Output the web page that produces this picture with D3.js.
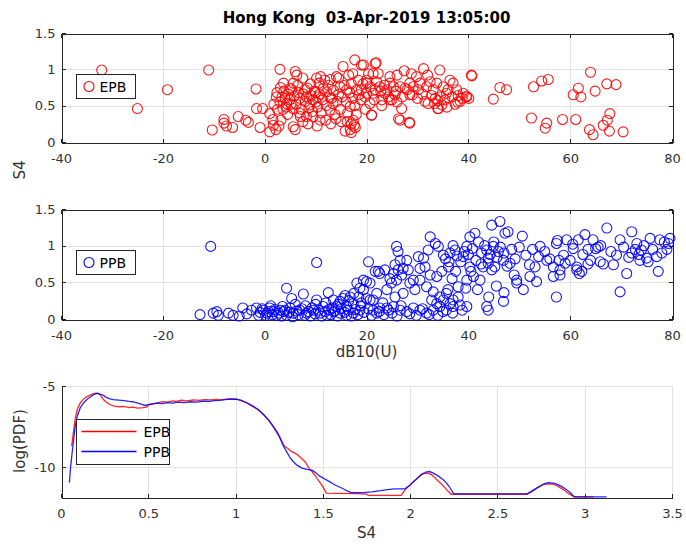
<!DOCTYPE html>
<html>
<head>
<meta charset="utf-8">
<script src="https://cdn.jsdelivr.net/npm/d3@7"></script>
<style>
  html, body { margin: 0; padding: 0; background: #fff; }
  svg { display: block; }
  text { font-family: "DejaVu Sans", "Liberation Sans", Arial, sans-serif; }
</style>
</head>
<body>
<svg id="chart" width="686" height="544"></svg>
<script>
// ---- data ----------------------------------------------------------------
const titleText = "Hong Kong  03-Apr-2019 13:05:00";
const seriesNames = ["EPB", "PPB"];
const dbTicks = [-40, -20, 0, 20, 40, 60, 80];
const s4Ticks = [0, 0.5, 1, 1.5];
const pdfXTicks = [0, 0.5, 1, 1.5, 2, 2.5, 3, 3.5];
const pdfYTicks = [-10, -5];

// EPB: [dB10(U), S4]
const epbPoints = [
  [-32.0,0.99],[-25.0,0.46],[-19.1,0.72],[-11.0,0.99],[-10.3,0.165],
  [-8.0,0.31],[-8.0,0.26],[-7.5,0.22],[-6.3,0.20],[-5.2,0.35],[-3.7,0.30],[-3.2,0.27],
  [-0.9,0.20],[-1.6,0.46],[-1.7,0.73],[-0.4,0.46],[1.0,0.14],[1.7,0.23],[1.6,0.31],
  [2.2,0.17],[1.0,0.39],[2.4,0.68],[3.0,1.00],[3.1,0.75],[3.7,0.81],[4.0,0.60],[4.3,0.53],
  [5.0,0.74],[5.6,0.81],[6.0,0.97],[6.3,0.92],[6.6,0.68],[5.6,0.46],[7.0,0.35],[5.6,0.21],
  [6.0,0.17],[7.5,0.88],[7.9,0.72],[8.2,0.35],[8.9,0.51],[9.5,0.58],[10.2,0.88],[10.5,0.62],
  [10.7,0.81],[10.9,0.30],[10.3,0.22],[11.5,0.74],[12.2,0.69],[12.8,0.62],[13.4,0.53],
  [14.1,0.90],[14.8,0.76],[15.4,1.04],[16.1,0.72],[16.8,0.49],[17.4,0.30],[16.8,0.17],
  [17.7,1.13],[17.3,0.94],[18.4,0.85],[19.0,1.06],[19.7,0.62],[20.4,0.94],[21.3,0.67],
  [21.7,1.08],[22.0,0.83],[19.4,1.06],[21.9,1.09],[21.3,0.94],[22.3,0.94],
  [20.0,0.81],[20.7,0.76],[21.7,0.72],[22.6,0.76],[23.6,0.67],[24.6,0.81],[25.3,0.76],
  [24.3,0.62],[25.6,0.65],[26.6,0.76],[27.6,0.74],[28.5,0.81],[29.2,0.76],[29.8,0.90],
  [30.5,0.81],[31.2,1.01],[31.8,0.76],[32.5,0.83],[33.1,0.72],[33.8,0.81],[34.4,0.99],
  [35.1,0.76],[35.4,0.58],[35.7,0.67],[36.4,0.85],[37.0,0.81],[37.7,0.72],[38.4,0.56],
  [39.0,0.67],[39.7,0.62],[40.6,0.92],[34.8,0.51],[34.1,0.46],[33.4,0.53],[32.1,0.53],
  [28.5,0.65],[26.9,0.46],[26.6,0.30],[28.4,0.27],[21.0,0.37],[20.7,0.53],[20.0,0.67],
  [19.0,0.72],[24.6,0.58],[23.0,0.58],
  [44.9,0.59],[46.2,0.75],[47.5,0.72],[52.8,0.76],[54.4,0.84],[55.7,0.86],[52.4,0.33],
  [55.4,0.26],[55.1,0.19],[58.5,0.31],[61.1,0.31],[60.6,0.65],[61.6,0.74],[62.1,0.62],
  [64.0,0.96],[64.9,0.70],[67.2,0.80],[69.0,0.79],[63.8,0.17],[64.5,0.10],[67.8,0.39],
  [67.3,0.30],[66.5,0.23],[67.7,0.15],[70.4,0.14],
  [2.5,0.45],[3.0,0.55],[3.4,0.62],[3.8,0.70],[4.2,0.48],[4.6,0.66],[4.9,0.58],[5.3,0.72],
  [5.8,0.63],[6.2,0.52],[6.5,0.78],[6.9,0.60],[7.2,0.45],[7.6,0.66],[8.0,0.56],[8.4,0.74],
  [8.7,0.47],[9.1,0.64],[9.4,0.42],[9.8,0.70],[10.1,0.55],[10.4,0.48],[10.8,0.66],[11.1,0.40],
  [11.4,0.58],[11.8,0.85],[12.1,0.50],[12.5,0.78],[12.8,0.44],[13.1,0.60],[13.5,0.71],
  [13.8,0.38],[14.2,0.56],[14.5,0.66],[14.9,0.45],[15.2,0.62],[15.6,0.78],[16.0,0.55],
  [16.3,0.40],[16.7,0.68],[17.0,0.80],[17.3,0.60],[17.7,0.50],[18.1,0.72],[18.5,0.65],
  [18.9,0.58],[19.3,0.80],[9.0,0.80],[11.0,0.90],[12.0,0.30],[13.0,0.25],[14.0,0.32],
  [15.0,0.28],[8.5,0.25],[7.5,0.28],[9.5,0.35],[6.8,0.40],[4.5,0.38],[3.2,0.30],[2.8,0.22],
  [1.8,0.52],[2.3,0.62],[16.5,0.92],[14.5,0.88],[12.9,0.86],[10.0,0.68],[8.2,0.62],[5.2,0.52],
  [3.6,0.45],[22.8,0.70],[23.5,0.78],[24.0,0.72],[25.8,0.70],[27.0,0.62],[28.0,0.72],
  [29.0,0.65],[30.2,0.72],[31.0,0.66],[32.8,0.64],[33.5,0.60],[36.0,0.72],[38.0,0.64],
  [25.0,0.58],[26.0,0.55],[23.0,0.50],[21.5,0.58],[19.8,0.45],[18.0,0.38],[17.0,0.25],
  [16.2,0.28],[15.8,0.15],[17.8,0.20],[20.0,0.85],[26.0,0.92],[28.8,0.94],[32.0,0.92],
  [34.5,0.62],[35.8,0.48],[37.4,0.52],[36.8,0.62],[38.8,0.60],[31.5,0.56],[30.0,0.60],
  [24.6,0.90],[27.4,0.98],[17.0,0.13],[17.6,0.23],[21.0,0.37],[26.3,0.32],[28.5,0.26],
  [34.0,0.57],[34.0,0.46],[40.1,0.60],[39.6,0.63],[37.9,0.55],[40.7,0.91]
];

// PPB: [dB10(U), S4]
const ppbPoints = [
  [-10.6,0.99],[-12.7,0.06],[-10.1,0.08],[-9.4,0.10],[-9.1,0.05],[-7.1,0.08],[-6.2,0.05],
  [-4.3,0.15],[-2.6,0.12],[-1.6,0.15],[-0.9,0.09],[-0.3,0.12],[0.4,0.08],[1.0,0.15],
  [1.7,0.10],[2.4,0.05],[3.0,0.12],[4.3,0.42],[5.3,0.28],[7.6,0.34],[10.2,0.77],[12.5,0.36],
  [10.2,0.26],[11.5,0.17],[9.6,0.12],[8.2,0.08],[6.9,0.12],[5.6,0.08],[5.0,0.15],[4.3,0.05],
  [3.7,0.10],[13.5,0.26],[14.1,0.17],[14.8,0.24],[15.4,0.28],[16.1,0.17],[16.8,0.30],
  [17.4,0.21],[18.1,0.49],[18.7,0.42],[19.4,0.53],[20.0,0.51],[20.4,0.78],[21.7,0.65],
  [20.7,0.26],[21.3,0.12],[22.0,0.08],[18.7,0.12],[17.4,0.08],[16.1,0.05],[14.8,0.08],
  [13.5,0.10],[12.2,0.05],[10.9,0.08],[13.2,0.15],
  [22.3,0.65],[20.7,0.49],[19.4,0.40],[20.0,0.28],[21.3,0.26],
  [22.6,0.15],[24.3,0.12],[25.3,0.17],[26.6,0.12],[27.9,0.10],[29.2,0.15],[30.5,0.12],
  [31.8,0.08],[33.1,0.12],[34.4,0.17],[35.7,0.12],[37.0,0.17],[38.4,0.19],[39.7,0.17],
  [24.0,0.40],[24.9,0.49],[25.9,0.53],[25.6,0.30],[27.2,0.35],[28.5,0.49],[29.5,0.40],
  [30.5,0.53],[31.8,0.44],[33.1,0.37],[34.4,0.30],[35.7,0.35],[37.0,0.26],[38.0,0.44],
  [32.8,0.26],[33.8,0.21],[35.1,0.26],[36.4,0.21],
  [25.9,0.99],[26.2,0.92],[26.6,0.80],[25.6,0.74],[26.2,0.67],[25.3,0.62],[26.9,0.60],
  [24.6,0.55],[27.2,0.69],[28.2,0.67],[23.6,0.67],[22.6,0.62],[27.9,0.80],[30.2,0.85],
  [31.2,0.83],[32.1,0.94],[32.5,1.12],[33.5,1.03],[34.1,0.99],[35.1,0.87],[36.4,0.90],
  [37.4,0.94],[36.1,0.71],[34.8,0.65],[33.8,0.58],[32.5,0.60],[31.5,0.71],[29.2,0.53],
  [30.5,0.69],
  [39.0,0.85],[39.7,0.99],[40.3,1.12],[41.3,1.17],[40.3,0.71],[39.7,0.53],[41.0,0.58],
  [42.3,0.53],[42.9,0.71],[43.9,0.83],[44.6,1.28],[46.2,1.33],[47.2,1.17],[47.8,1.19],
  [44.9,0.99],[45.9,0.92],[43.6,0.94],[44.6,0.67],[45.2,0.71],[46.9,0.80],[48.2,0.76],
  [49.5,0.53],[50.8,0.40],[52.1,0.58],[53.1,0.71],[54.1,0.99],[55.4,0.80],[56.7,0.71],
  [58.0,0.67],[57.3,1.03],[58.7,0.87],[59.3,1.08],[60.6,0.96],[61.6,1.08],[62.3,0.65],
  [61.3,0.71],[62.9,1.15],[64.5,1.08],[65.9,0.78],[67.2,1.24],[69.1,0.87],[69.8,1.08],
  [71.1,0.62],[72.1,1.19],[73.1,1.03],[74.0,0.94],[75.0,0.83],[75.7,1.10],[77.3,0.65],
  [77.6,1.08],[78.0,0.90],[79.3,1.03],[79.6,1.10],[43.6,0.17],[43.9,0.12],[46.9,0.24],
  [49.5,0.49],[53.4,0.51],[56.7,0.58],[58.0,0.60],[57.3,0.30],[61.3,0.67],[69.8,0.37],
  [72.1,0.90],[73.7,0.80],[75.3,0.78],
  [0.2,0.05],[0.8,0.10],[1.5,0.06],[2.0,0.13],[2.8,0.08],[3.3,0.04],[4.0,0.12],[4.8,0.09],
  [5.5,0.03],[6.2,0.11],[6.6,0.06],[7.3,0.14],[7.9,0.05],[8.6,0.10],[9.0,0.04],[9.3,0.15],
  [9.9,0.07],[10.6,0.12],[11.2,0.04],[11.9,0.10],[12.6,0.13],[13.0,0.06],[13.8,0.11],
  [14.3,0.04],[15.0,0.14],[15.7,0.09],[16.4,0.12],[17.0,0.04],[17.8,0.13],[18.3,0.06],
  [18.9,0.18],[19.5,0.09],[20.3,0.14],[21.0,0.05],[22.5,0.10],[23.4,0.06],[24.0,0.15],
  [25.0,0.08],[26.0,0.04],[26.8,0.18],[28.5,0.07],[29.8,0.05],[31.0,0.14],[32.3,0.06],
  [34.0,0.05],[35.0,0.10],[36.9,0.08],[38.8,0.12],[-1.2,0.05],[-0.5,0.14],[-3.5,0.07],
  [-5.0,0.04],[1.2,0.18],[3.5,0.17],[6.0,0.20],[8.0,0.18],[10.0,0.20],[12.0,0.22],
  [14.5,0.20],[16.5,0.25],[18.5,0.30],[19.0,0.22],[17.5,0.35],[15.8,0.32],[22.0,0.35],
  [23.2,0.22],
  [35.5,0.82],[36.2,0.78],[37.0,1.00],[37.8,0.86],[38.5,0.78],[39.2,0.92],[40.0,0.88],
  [40.8,0.96],[41.5,0.80],[42.0,1.05],[42.6,0.90],[43.2,1.00],[43.9,0.76],[44.3,0.88],
  [45.0,1.05],[45.6,0.84],[46.3,0.98],[47.0,0.90],[47.6,0.72],[48.5,0.95],[49.2,0.82],
  [50.0,0.98],[50.6,1.13],[51.3,0.87],[52.0,0.74],[52.6,0.95],[53.8,0.85],[55.0,0.92],
  [56.0,0.82],[57.5,1.07],[57.8,0.80],[59.0,0.76],[60.0,0.80],[60.5,1.02],[62.5,0.88],
  [63.5,0.95],[64.0,0.80],[65.0,0.96],[66.0,1.00],[68.0,0.92],[68.5,0.74],[70.5,0.98],
  [71.5,0.84],[72.8,0.95],[73.5,0.88],[74.5,1.00],[76.2,0.95],[77.0,0.85],[78.5,1.05],
  [79.0,0.95],[38.0,0.30],[39.5,0.42],[41.8,0.40],[44.0,0.30],[36.0,0.40],[47.0,0.36],
  [45.5,0.45],[49.0,0.60],[40.5,0.65],[42.5,0.75],[37.5,0.65],[36.8,0.55],[61.8,0.62],
  [63.5,0.75],[66.5,0.75],[65.5,0.98]
];

// log(PDF) of S4: [S4, log(PDF)]
const pdfEpb = [
  [0.061,-8.7],[0.068,-8.1],[0.08,-7.1],[0.093,-6.45],[0.105,-6.15],[0.118,-5.93],
  [0.135,-5.75],[0.155,-5.62],[0.175,-5.52],[0.193,-5.45],[0.21,-5.44],[0.225,-5.55],
  [0.243,-5.83],[0.26,-6.0],[0.28,-6.14],[0.30,-6.22],[0.33,-6.28],[0.36,-6.25],
  [0.39,-6.33],[0.41,-6.3],[0.44,-6.36],[0.47,-6.33],[0.49,-6.3],[0.506,-6.14],
  [0.53,-6.1],[0.56,-6.02],[0.58,-5.97],[0.61,-5.99],[0.64,-5.92],[0.66,-5.95],
  [0.69,-5.88],[0.72,-5.92],[0.76,-5.85],[0.79,-5.88],[0.82,-5.84],[0.86,-5.86],
  [0.89,-5.82],[0.92,-5.85],[0.96,-5.79],[0.98,-5.82],[1.0,-5.8],[1.03,-5.9],
  [1.06,-6.03],[1.08,-6.15],[1.11,-6.34],[1.14,-6.55],[1.16,-6.76],[1.19,-7.1],
  [1.21,-7.38],[1.24,-7.85],[1.26,-8.3],[1.28,-8.72],[1.30,-8.85],[1.32,-9.03],
  [1.35,-9.2],[1.37,-9.38],[1.40,-9.7],[1.42,-10.06],[1.44,-10.3],[1.46,-10.58],
  [1.48,-10.9],[1.50,-11.2],[1.52,-11.6],[1.60,-11.62],[1.70,-11.63],[1.75,-11.66],
  [1.76,-11.74],[1.85,-11.74],[1.95,-11.74],[1.97,-11.4],[2.01,-11.0],[2.04,-10.7],
  [2.06,-10.48],[2.08,-10.4],[2.10,-10.37],[2.12,-10.45],[2.135,-10.58],[2.16,-10.85],
  [2.185,-11.1],[2.21,-11.4],[2.235,-11.67],[2.40,-11.67],[2.55,-11.67],[2.67,-11.67],
  [2.70,-11.5],[2.73,-11.25],[2.76,-11.08],[2.79,-11.03],[2.82,-11.05],[2.85,-11.2],
  [2.88,-11.4],[2.91,-11.65],[2.94,-11.83],[3.05,-11.83]
];
const pdfPpb = [
  [0.048,-10.96],[0.055,-10.0],[0.062,-9.3],[0.068,-8.72],[0.08,-7.6],[0.093,-6.86],
  [0.11,-6.35],[0.13,-6.03],[0.15,-5.82],[0.17,-5.66],[0.19,-5.52],[0.205,-5.45],
  [0.22,-5.48],[0.243,-5.58],[0.26,-5.7],[0.28,-5.79],[0.30,-5.84],[0.33,-5.87],
  [0.36,-5.9],[0.39,-5.95],[0.41,-5.97],[0.44,-6.05],[0.46,-6.12],[0.48,-6.2],
  [0.50,-6.15],[0.52,-6.1],[0.55,-6.06],[0.58,-6.08],[0.61,-6.03],[0.64,-6.06],
  [0.67,-6.0],[0.71,-6.02],[0.74,-5.97],[0.78,-5.99],[0.81,-5.94],[0.85,-5.95],
  [0.88,-5.9],[0.91,-5.88],[0.95,-5.82],[0.98,-5.8],[1.01,-5.82],[1.03,-5.87],
  [1.06,-6.0],[1.10,-6.24],[1.13,-6.45],[1.16,-6.76],[1.19,-7.1],[1.22,-7.58],
  [1.25,-8.1],[1.27,-8.62],[1.29,-9.0],[1.31,-9.38],[1.33,-9.65],[1.35,-9.86],
  [1.38,-10.06],[1.41,-10.14],[1.44,-10.2],[1.46,-10.35],[1.48,-10.54],[1.53,-10.85],
  [1.57,-11.1],[1.61,-11.3],[1.66,-11.57],[1.73,-11.57],[1.78,-11.52],[1.83,-11.45],
  [1.87,-11.38],[1.91,-11.34],[1.97,-11.34],[2.00,-11.1],[2.02,-10.89],[2.05,-10.6],
  [2.07,-10.41],[2.09,-10.3],[2.11,-10.27],[2.13,-10.35],[2.16,-10.54],[2.19,-10.78],
  [2.21,-11.0],[2.23,-11.3],[2.25,-11.65],[2.40,-11.65],[2.55,-11.65],[2.67,-11.65],
  [2.70,-11.45],[2.74,-11.2],[2.77,-11.02],[2.79,-10.95],[2.82,-10.98],[2.84,-11.05],
  [2.87,-11.2],[2.89,-11.35],[2.92,-11.6],[2.94,-11.83],[3.125,-11.83]
];

// ---- layout --------------------------------------------------------------
const W = 686, H = 544;
const left = 61, right = 672;
const panels = {
  epb: { top: 33, bottom: 142 },
  ppb: { top: 209, bottom: 319 },
  pdf: { top: 386, bottom: 497 }
};
const axisColor = "#262626";
const gridColor = "#e3e3e3";
const textColor = "#333";
const labelSize = "15px";
const colors = { EPB: "#ff0000", PPB: "#0000ff" };

const svg = d3.select("#chart");
svg.append("rect").attr("width", W).attr("height", H).attr("fill", "#fff");

const xDb = d3.scaleLinear().domain([-40, 80]).range([left, right]);
const xS4 = d3.scaleLinear().domain([0, 3.5]).range([left, right]);

function styleAxis(g) {
  g.select(".domain").attr("stroke", axisColor);
  g.selectAll(".tick line").attr("stroke", axisColor);
  g.selectAll(".tick text").attr("fill", textColor)
    .style("font-family", '"DejaVu Sans", sans-serif').style("font-size", "13px");
  g.attr("shape-rendering", "crispEdges");
}

// scatter panels: box on, ticks mirrored, grid on
function scatterPanel(p, points, name) {
  const y = d3.scaleLinear().domain([0, 1.5]).range([p.bottom, p.top]);
  const g = svg.append("g");
  const gg = g.append("g");
  gg.selectAll("line.v").data(dbTicks.slice(1, -1)).join("line")
    .attr("x1", d => Math.round(xDb(d)) + 0.5).attr("x2", d => Math.round(xDb(d)) + 0.5)
    .attr("y1", p.top).attr("y2", p.bottom)
    .attr("stroke", gridColor).attr("shape-rendering", "crispEdges");
  gg.selectAll("line.h").data([0.5, 1]).join("line")
    .attr("y1", d => Math.round(y(d)) + 0.5).attr("y2", d => Math.round(y(d)) + 0.5)
    .attr("x1", left).attr("x2", right)
    .attr("stroke", gridColor).attr("shape-rendering", "crispEdges");

  const fmt = d => String(d);
  g.append("g").attr("transform", `translate(0,${p.bottom + 0.5})`)
    .call(d3.axisBottom(xDb).tickValues(dbTicks).tickFormat(fmt).tickSizeInner(-4).tickSizeOuter(0).tickPadding(11))
    .call(styleAxis);
  g.append("g").attr("transform", `translate(0,${p.top + 0.5})`)
    .call(d3.axisTop(xDb).tickValues(dbTicks).tickFormat("").tickSizeInner(-4).tickSizeOuter(0))
    .call(styleAxis);
  g.append("g").attr("transform", `translate(${left + 0.5},0)`)
    .call(d3.axisLeft(y).tickValues(s4Ticks).tickFormat(fmt).tickSizeInner(-4).tickSizeOuter(0).tickPadding(6))
    .call(styleAxis);
  g.append("g").attr("transform", `translate(${right + 0.5},0)`)
    .call(d3.axisRight(y).tickValues(s4Ticks).tickFormat("").tickSizeInner(-4).tickSizeOuter(0))
    .call(styleAxis);

  g.append("g").selectAll("circle").data(points).join("circle")
    .attr("cx", d => xDb(d[0])).attr("cy", d => y(d[1])).attr("r", 5)
    .attr("fill", "none").attr("stroke", colors[name]).attr("stroke-width", 1.1)
    .attr("stroke-opacity", 0.9);

  // legend
  const lg = g.append("g").attr("transform", `translate(76.5,${p.top + 41.5})`);
  lg.append("rect").attr("width", 59).attr("height", 24)
    .attr("fill", "#fff").attr("stroke", axisColor).attr("shape-rendering", "crispEdges");
  lg.append("circle").attr("cx", 12.5).attr("cy", 12).attr("r", 5)
    .attr("fill", "none").attr("stroke", colors[name]).attr("stroke-width", 1.1);
  lg.append("text").attr("x", 23).attr("y", 17).text(name)
    .attr("fill", "#000").style("font-size", "14px");
  return y;
}

scatterPanel(panels.epb, epbPoints, "EPB");
scatterPanel(panels.ppb, ppbPoints, "PPB");

// title
svg.append("text").attr("x", (left + right) / 2).attr("y", 23)
  .attr("text-anchor", "middle").attr("fill", "#000")
  .style("font-size", "15px").style("font-weight", "bold")
  .style("white-space", "pre").attr("xml:space", "preserve")
  .text(titleText);

// axis labels
svg.append("text").attr("transform", "translate(25,170) rotate(-90)")
  .attr("text-anchor", "middle").attr("fill", textColor).style("font-size", labelSize).text("S4");
svg.append("text").attr("x", (left + right) / 2).attr("y", 357)
  .attr("text-anchor", "middle").attr("fill", textColor).style("font-size", labelSize).text("dB10(U)");

// ---- PDF panel: box off, grid on ----------------------------------------
const p3 = panels.pdf;
const yPdf = d3.scaleLinear().domain([-11.84, -5]).range([p3.bottom, p3.top]);
const g3 = svg.append("g");
g3.append("g").selectAll("line").data(pdfXTicks.slice(1)).join("line")
  .attr("x1", d => Math.round(xS4(d)) + 0.5).attr("x2", d => Math.round(xS4(d)) + 0.5)
  .attr("y1", p3.top).attr("y2", p3.bottom)
  .attr("stroke", gridColor).attr("shape-rendering", "crispEdges");
g3.append("g").selectAll("line").data(pdfYTicks).join("line")
  .attr("y1", d => Math.round(yPdf(d)) + 0.5).attr("y2", d => Math.round(yPdf(d)) + 0.5)
  .attr("x1", left).attr("x2", right)
  .attr("stroke", gridColor).attr("shape-rendering", "crispEdges");

g3.append("g").attr("transform", `translate(0,${p3.bottom + 0.5})`)
  .call(d3.axisBottom(xS4).tickValues(pdfXTicks).tickFormat(d => String(d)).tickSizeInner(-4).tickSizeOuter(0).tickPadding(11))
  .call(styleAxis);
g3.append("g").attr("transform", `translate(${left + 0.5},0)`)
  .call(d3.axisLeft(yPdf).tickValues(pdfYTicks).tickFormat(d => String(d)).tickSizeInner(-4).tickSizeOuter(0).tickPadding(6))
  .call(styleAxis);

const line = d3.line().x(d => xS4(d[0])).y(d => yPdf(d[1])).curve(d3.curveLinear);
g3.append("path").datum(pdfEpb).attr("d", line)
  .attr("fill", "none").attr("stroke", colors.EPB).attr("stroke-width", 1.3).attr("stroke-opacity", 0.85);
g3.append("path").datum(pdfPpb).attr("d", line)
  .attr("fill", "none").attr("stroke", colors.PPB).attr("stroke-width", 1.3).attr("stroke-opacity", 0.85);

// legend
const lg3 = g3.append("g").attr("transform", "translate(76.5,419.5)");
lg3.append("rect").attr("width", 93).attr("height", 45)
  .attr("fill", "#fff").attr("stroke", axisColor).attr("shape-rendering", "crispEdges");
seriesNames.forEach((n, i) => {
  const yy = 12 + i * 20;
  lg3.append("line").attr("x1", 5).attr("x2", 60).attr("y1", yy).attr("y2", yy)
    .attr("stroke", colors[n]).attr("stroke-width", 1.3);
  lg3.append("text").attr("x", 67).attr("y", yy + 5).text(n)
    .attr("fill", "#000").style("font-size", "14px");
});

svg.append("text").attr("transform", "translate(25,441) rotate(-90)")
  .attr("text-anchor", "middle").attr("fill", textColor).style("font-size", labelSize).text("log(PDF)");
svg.append("text").attr("x", (left + right) / 2).attr("y", 538)
  .attr("text-anchor", "middle").attr("fill", textColor).style("font-size", labelSize).text("S4");
</script>
</body>
</html>
